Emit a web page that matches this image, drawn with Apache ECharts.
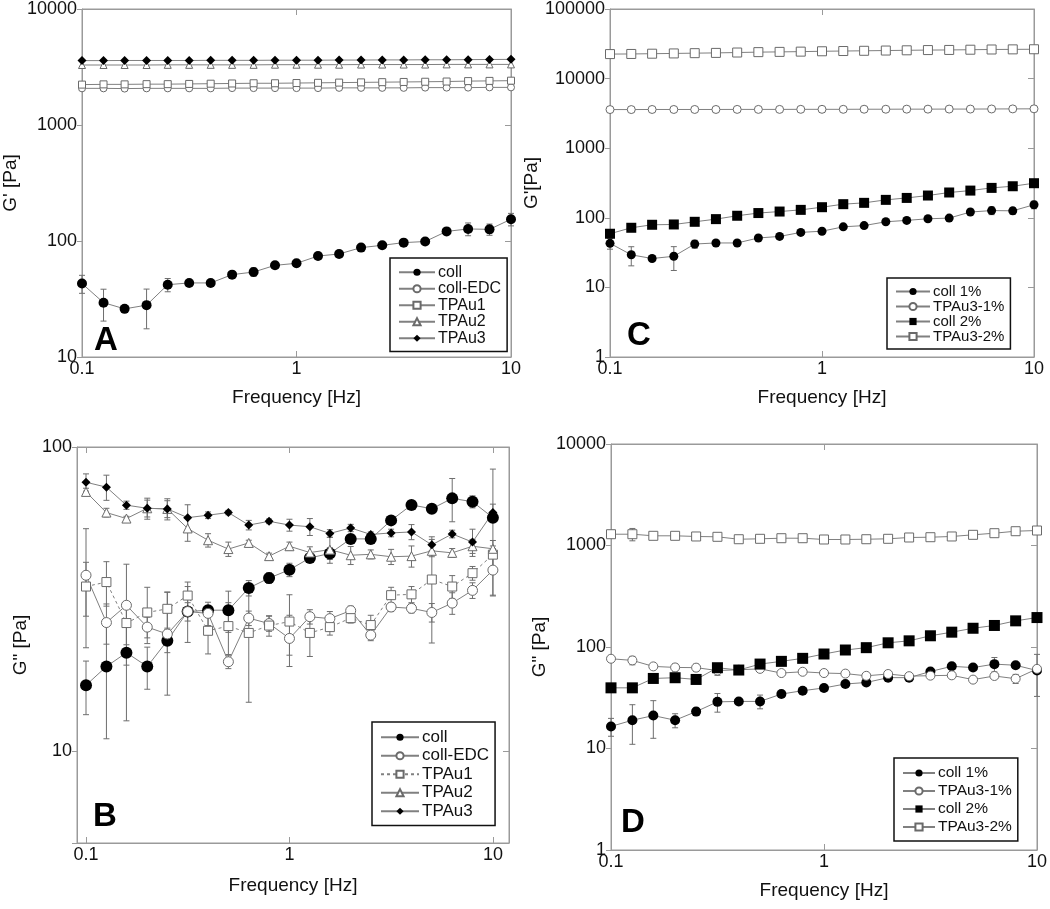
<!DOCTYPE html>
<html>
<head>
<meta charset="utf-8">
<script src="https://cdn.jsdelivr.net/npm/echarts@6.0.0/dist/echarts.min.js"></script>
<style>
html, body { margin: 0; padding: 0; background: #fff; }
#chart { width: 1050px; height: 909px; }
</style>
</head>
<body>
<div id="chart"></div>
<script>
// frequency sweep, same 21 points in every panel
const freq = [0.1, 0.126, 0.158, 0.2, 0.251, 0.316, 0.398, 0.501, 0.631, 0.794, 1, 1.26, 1.58, 2, 2.51, 3.16, 3.98, 5.01, 6.31, 7.94, 10];

// G' (panels A and C)
const gpColl1 = [43, 29.4, 26, 28, 42, 43.5, 43.5, 51.3, 54, 61.7, 64.2, 74.2, 77.3, 87.7, 91.8, 96.8, 99, 121, 127, 126, 154];
const gpColl1Err = [7.6, 9, 1, 10.5, 5.5, 1, 1, 1, 4.5, 1, 1, 1, 1, 1, 1, 1, 1, 3, 16, 14, 19];
const gpCollEDC = [2070, 2070, 2060, 2070, 2070, 2070, 2070, 2080, 2080, 2080, 2080, 2080, 2090, 2090, 2090, 2090, 2100, 2100, 2100, 2110, 2110];
const gpTPAu1 = [2230, 2240, 2240, 2250, 2250, 2260, 2270, 2280, 2290, 2290, 2300, 2310, 2320, 2330, 2340, 2350, 2360, 2370, 2390, 2400, 2410];
const gpTPAu2 = [3290, 3290, 3290, 3290, 3300, 3300, 3300, 3300, 3300, 3310, 3310, 3310, 3310, 3320, 3320, 3320, 3320, 3330, 3330, 3330, 3330];
const gpTPAu3 = [3590, 3590, 3600, 3600, 3600, 3600, 3610, 3610, 3610, 3620, 3620, 3620, 3630, 3630, 3640, 3640, 3650, 3650, 3660, 3670, 3680];
const gpColl2 = [59, 71.9, 79.4, 80.2, 87.6, 95.7, 107, 117, 123, 130, 142, 157, 164, 181, 193, 209, 231, 246, 269, 284, 314];
const gpTPAu3_2 = [22500, 22600, 22800, 23000, 23200, 23400, 23700, 24000, 24200, 24400, 24700, 24900, 25100, 25300, 25500, 25700, 25800, 26000, 26200, 26300, 26400];

// G'' (panels B and D)
const gppColl = [16.5, 19.0, 21.1, 19.0, 23.1, 28.8, 29.1, 29.1, 34.4, 37.1, 39.5, 43.2, 44.7, 49.9, 49.9, 57.4, 64.5, 62.7, 67.8, 66.1, 58.6];
const gppCollErr = [3.3, 8, 8.5, 3, 2, 6, 1, 4.5, 2, 1.5, 2, 1, 2, 1, 1, 1, 1.5, 1, 11, 3, 26];
const gppCollEDC = [37.9, 26.5, 30.2, 25.6, 24.3, 28.8, 28.4, 19.7, 27.4, 26.3, 23.5, 27.7, 27.3, 29.0, 24.1, 29.8, 29.5, 28.6, 30.7, 33.8, 39.4];
const gppCollEDCErr = [16, 4, 11, 2, 9, 2, 2.5, 1, 1.5, 1.5, 4.5, 1.5, 1.5, 1, 1, 1, 1, 2, 2.5, 2, 7];
const gppTPAu1 = [34.8, 36.0, 26.4, 28.6, 29.4, 32.5, 24.9, 25.8, 24.5, 25.9, 26.7, 24.5, 25.6, 27.4, 26.0, 32.6, 32.8, 36.7, 34.8, 38.5, 44.3];
const gppTPAu1Err = [7, 6, 4, 6, 4, 3.5, 4, 5, 10, 2, 6, 4, 1.5, 1, 2, 2, 2, 14, 3, 2, 5];
const gppTPAu2 = [71.2, 60.9, 58.2, 62.9, 62.6, 54.0, 49.4, 46.2, 48.4, 43.8, 47.2, 45.0, 46.0, 44.1, 44.4, 43.6, 43.8, 45.6, 44.9, 47.2, 46.3];
const gppTPAu2Err = [2, 2, 1, 4, 4, 5, 2.5, 2.5, 1, 1, 1.5, 2, 4.5, 3, 1.5, 2.5, 3.5, 2, 1.5, 2.5, 1];
const gppTPAu3 = [76.6, 73.8, 64.4, 62.9, 62.6, 58.6, 59.7, 60.9, 55.4, 57.0, 55.4, 54.7, 52.0, 54.2, 51.6, 52.2, 52.6, 47.7, 51.8, 48.7, 60.9];
const gppTPAu3Err = [5, 7, 2, 5, 5, 6, 1.5, 1, 2, 1, 2.5, 3.5, 1.5, 1.5, 1, 1.5, 3, 2, 1.5, 5, 4];
const gppColl2 = [39.6, 39.6, 49.0, 49.8, 47.9, 62.5, 59.3, 67.9, 72.2, 77.3, 85.3, 93.4, 98.5, 110, 115, 129, 140, 153, 163, 181, 195];
const gppTPAu3_2 = [1292, 1292, 1246, 1246, 1227, 1218, 1153, 1164, 1180, 1180, 1146, 1146, 1153, 1164, 1199, 1207, 1227, 1274, 1322, 1383, 1405];
const gppTPAu3_2Err = [80, 180, 50, 40, 50, 40, 70, 50, 40, 40, 50, 40, 40, 40, 40, 40, 40, 50, 40, 30, 50];

// axis ranges per panel: A, B, C, D
const xRanges = [[0.1, 10], [0.0903, 12], [0.1, 10], [0.1, 10]];
const yRanges = [[10, 10000], [5, 100], [1, 100000], [1, 10000]];
const yNames = ["G' [Pa]", 'G" [Pa]', "G'[Pa]", 'G" [Pa]'];

const FONT = 'Liberation Sans, Arial, sans-serif';
const lineGray = '#808080';
const frameGray = '#9a9a9a';

const grids = [
    {left: 82, top: 7, width: 429, height: 350},
    {left: 77, top: 447, width: 432, height: 396},
    {left: 610, top: 7, width: 424, height: 350},
    {left: 611, top: 444, width: 426, height: 406},
];

function decadeLabel(v) {
    const l = Math.log10(v);
    if (Math.abs(l - Math.round(l)) > 1e-6) return '';
    return String(Math.round(Math.pow(10, Math.round(l)) * 10) / 10);
}

function pts(vals) {
    return vals.map((v, i) => [freq[i], v]);
}

function line(name, g, vals, sym, size, filled, dashed) {
    return {
        name: name,
        type: 'line',
        xAxisIndex: g,
        yAxisIndex: g,
        data: pts(vals),
        symbol: sym,
        symbolSize: size,
        showSymbol: true,
        lineStyle: {color: lineGray, width: 1, type: dashed ? [3, 3] : 'solid'},
        itemStyle: filled
            ? {color: '#000', borderColor: '#000', borderWidth: 0}
            : {color: '#fff', borderColor: '#6a6a6a', borderWidth: 1},
        z: 3,
        silent: true,
    };
}

function errBars(g, vals, errs) {
    return {
        type: 'custom',
        xAxisIndex: g,
        yAxisIndex: g,
        z: 2,
        silent: true,
        data: vals.map((v, i) => [freq[i], v - errs[i], v + errs[i]]),
        encode: {x: 0, y: [1, 2]},
        renderItem: (params, api) => {
            const x = api.value(0);
            const top = api.coord([x, api.value(2)]);
            const bot = api.coord([x, api.value(1)]);
            const s = {stroke: '#6e6e6e', lineWidth: 1};
            return {
                type: 'group',
                children: [
                    {type: 'line', shape: {x1: top[0], y1: top[1], x2: bot[0], y2: bot[1]}, style: s},
                    {type: 'line', shape: {x1: top[0] - 3, y1: top[1], x2: top[0] + 3, y2: top[1]}, style: s},
                    {type: 'line', shape: {x1: bot[0] - 3, y1: bot[1], x2: bot[0] + 3, y2: bot[1]}, style: s},
                ],
            };
        },
    };
}

const xAxes = [];
const yAxes = [];
grids.forEach((gr, g) => {
    xAxes.push({
        gridIndex: g, type: 'log', logBase: 10,
        min: xRanges[g][0], max: xRanges[g][1],
        name: 'Frequency [Hz]', nameLocation: 'middle', nameGap: g === 1 ? 33 : 31,
        nameTextStyle: {fontFamily: FONT, fontSize: 19, color: '#111'},
        axisLine: {show: true, lineStyle: {color: frameGray}},
        axisTick: {show: true, inside: true, length: 6, lineStyle: {color: frameGray}},
        axisLabel: {fontFamily: FONT, fontSize: 18, color: '#111', margin: 3, formatter: decadeLabel},
        splitLine: {show: false},
    });
    yAxes.push({
        gridIndex: g, type: 'log', logBase: 10,
        min: yRanges[g][0], max: yRanges[g][1],
        name: yNames[g], nameLocation: 'middle', nameGap: g === 1 ? 47 : 62,
        nameTextStyle: {fontFamily: FONT, fontSize: 19, color: '#111'},
        axisLine: {show: true, lineStyle: {color: frameGray}},
        axisTick: {show: true, inside: false, length: 5, lineStyle: {color: frameGray}},
        axisLabel: {fontFamily: FONT, fontSize: 18, color: '#111', margin: 5, formatter: decadeLabel},
        splitLine: {show: false},
    });
});
// top and right frame ticks
grids.forEach((gr, g) => {
    xAxes.push({
        gridIndex: g, type: 'log', logBase: 10, position: 'top',
        min: xRanges[g][0], max: xRanges[g][1],
        axisLine: {show: true, lineStyle: {color: frameGray}},
        axisTick: {show: true, inside: true, length: 6, lineStyle: {color: frameGray}},
        axisLabel: {show: false},
        splitLine: {show: false},
    });
    yAxes.push({
        gridIndex: g, type: 'log', logBase: 10, position: 'right',
        min: yRanges[g][0], max: yRanges[g][1],
        axisLine: {show: true, lineStyle: {color: frameGray}},
        axisTick: {show: true, inside: true, length: 6, lineStyle: {color: frameGray}},
        axisLabel: {show: false},
        splitLine: {show: false},
    });
});

const series = [
    // A
    errBars(0, gpColl1, gpColl1Err),
    line('coll|A', 0, gpColl1, 'circle', 10, true),
    line('coll-EDC|A', 0, gpCollEDC, 'circle', 7, false),
    line('TPAu1|A', 0, gpTPAu1, 'rect', 7, false),
    line('TPAu2|A', 0, gpTPAu2, 'triangle', 7, false),
    line('TPAu3|A', 0, gpTPAu3, 'diamond', 9, true),
    // B
    errBars(1, gppColl, gppCollErr),
    errBars(1, gppCollEDC, gppCollEDCErr),
    errBars(1, gppTPAu1, gppTPAu1Err),
    errBars(1, gppTPAu2, gppTPAu2Err),
    errBars(1, gppTPAu3, gppTPAu3Err),
    line('coll|B', 1, gppColl, 'circle', 12, true),
    line('coll-EDC|B', 1, gppCollEDC, 'circle', 10, false),
    line('TPAu1|B', 1, gppTPAu1, 'rect', 9, false, true),
    line('TPAu2|B', 1, gppTPAu2, 'triangle', 9, false),
    line('TPAu3|B', 1, gppTPAu3, 'diamond', 9, true),
    // C
    errBars(2, gpColl1, gpColl1Err),
    line('coll 1%|C', 2, gpColl1, 'circle', 9, true),
    line('TPAu3-1%|C', 2, gpTPAu3, 'circle', 8, false),
    line('coll 2%|C', 2, gpColl2, 'rect', 10, true),
    line('TPAu3-2%|C', 2, gpTPAu3_2, 'rect', 9, false),
    // D
    errBars(3, gppColl, gppCollErr),
    errBars(3, gppTPAu3, gppTPAu3Err),
    errBars(3, gppTPAu3_2, gppTPAu3_2Err),
    line('coll 1%|D', 3, gppColl, 'circle', 10, true),
    line('TPAu3-1%|D', 3, gppTPAu3, 'circle', 9, false),
    line('coll 2%|D', 3, gppColl2, 'rect', 11, true),
    line('TPAu3-2%|D', 3, gppTPAu3_2, 'rect', 9, false),
];

function legend(names, left, top, fontSize, lineH, iconW) {
    return {
        data: names,
        orient: 'vertical',
        left: left, top: top,
        itemWidth: iconW, itemHeight: 9, itemGap: 0,
        padding: [6, 6, 5, 8],
        borderColor: '#111', borderWidth: 1.5, backgroundColor: '#fff',
        textStyle: {fontFamily: FONT, fontSize: fontSize, lineHeight: lineH, color: '#111', padding: [0, 0, 0, -2]},
        formatter: n => n.split('|')[0],
        selectedMode: false,
    };
}

const letters = [['A', 94, 339], ['B', 93, 815], ['C', 627, 334], ['D', 621, 821]];

const chart = echarts.init(document.getElementById('chart'));
chart.setOption({
    animation: false,
    backgroundColor: '#fff',
    grid: grids.map(gr => Object.assign({show: true, borderColor: frameGray, borderWidth: 1, backgroundColor: 'transparent'}, gr)),
    xAxis: xAxes,
    yAxis: yAxes,
    legend: [
        legend(['coll|A', 'coll-EDC|A', 'TPAu1|A', 'TPAu2|A', 'TPAu3|A'], 390, 258, 16, 16.5, 36),
        legend(['coll|B', 'coll-EDC|B', 'TPAu1|B', 'TPAu2|B', 'TPAu3|B'], 372, 722, 17, 18.5, 38),
        legend(['coll 1%|C', 'TPAu3-1%|C', 'coll 2%|C', 'TPAu3-2%|C'], 887, 278, 15, 15, 34),
        legend(['coll 1%|D', 'TPAu3-1%|D', 'coll 2%|D', 'TPAu3-2%|D'], 894, 758, 15.5, 18, 32),
    ],
    graphic: letters.map(([t, x, y]) => ({
        type: 'text', left: x, top: y - 15, z: 10,
        style: {text: t, font: 'bold 33px Liberation Sans, Arial, sans-serif', fill: '#000'},
    })),
    series: series,
});
</script>
</body>
</html>
